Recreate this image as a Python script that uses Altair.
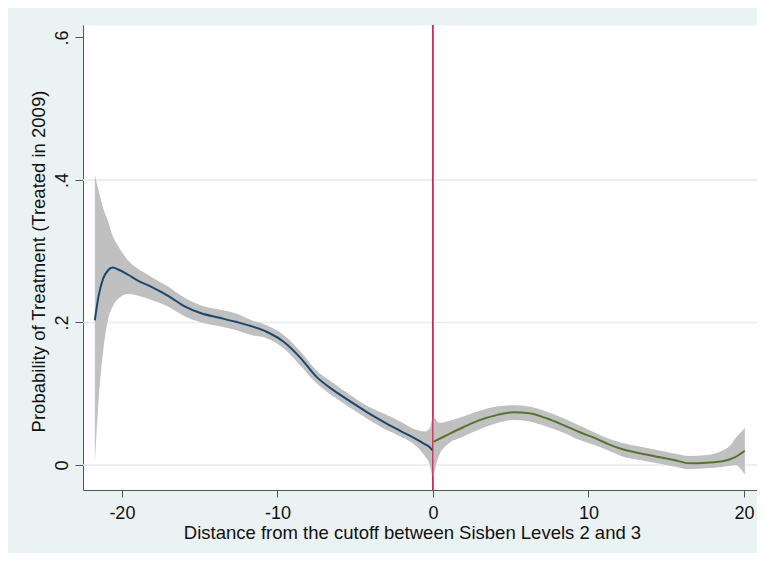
import altair as alt
import pandas as pd

# ---- data ----
LEFT_X = [-21.74, -21.5, -21.2, -20.9, -20.6, -20.2, -19.6, -19.0, -18.1, -17.0, -16.0,
          -14.9, -13.8, -12.7, -11.7, -10.7, -9.6, -8.5, -7.5, -6.4, -5.3, -4.3, -3.2,
          -2.1, -1.05, -0.5, -0.2, -0.05]
LEFT_MID = [0.203, 0.237, 0.262, 0.273, 0.277, 0.274, 0.267, 0.259, 0.250, 0.237, 0.223,
            0.213, 0.207, 0.201, 0.195, 0.187, 0.173, 0.150, 0.124, 0.105, 0.089, 0.075,
            0.061, 0.048, 0.036, 0.029, 0.025, 0.021]
LEFT_HI = [0.407, 0.385, 0.360, 0.343, 0.322, 0.306, 0.287, 0.276, 0.264, 0.250, 0.235,
           0.224, 0.2185, 0.213, 0.2035, 0.196, 0.1825, 0.159, 0.133, 0.115, 0.098, 0.084,
           0.0725, 0.061, 0.049, 0.047, 0.052, 0.066]
LEFT_LO = [0.003, 0.090, 0.160, 0.203, 0.222, 0.234, 0.240, 0.238, 0.2316, 0.222, 0.209,
           0.200, 0.195, 0.1895, 0.1825, 0.178, 0.164, 0.139, 0.115, 0.096, 0.080, 0.066,
           0.0515, 0.040, 0.026, 0.012, 0.000, -0.016]

RIGHT_X = [0.05, 0.25, 0.45, 0.9, 1.95, 3.0, 4.1, 5.2, 6.2, 7.3, 8.4, 9.45, 10.5, 11.2,
           12.2, 13.3, 14.4, 15.5, 16.5, 17.6, 18.7, 19.1, 19.5, 19.8, 20.06]
RIGHT_MID = [0.0327, 0.035, 0.037, 0.042, 0.053, 0.063, 0.070, 0.074, 0.0725, 0.0655, 0.056,
             0.046, 0.037, 0.030, 0.022, 0.0164, 0.0117, 0.007, 0.0024, 0.0033, 0.0056,
             0.008, 0.0117, 0.016, 0.020]
RIGHT_HI = [0.068, 0.062, 0.059, 0.061, 0.068, 0.076, 0.082, 0.084, 0.082, 0.075, 0.0655,
            0.055, 0.0445, 0.038, 0.031, 0.026, 0.021, 0.016, 0.0126, 0.014, 0.021, 0.027,
            0.039, 0.046, 0.052]
RIGHT_LO = [-0.016, 0.004, 0.016, 0.028, 0.040, 0.050, 0.0585, 0.063, 0.061, 0.054, 0.0454,
            0.035, 0.027, 0.021, 0.012, 0.007, 0.0024, -0.002, -0.006, -0.0047, -0.0024,
            -0.001, 0.000, -0.006, -0.013]

X_TICKS = [-20, -10, 0, 10, 20]
Y_TICKS = [0, 0.2, 0.4, 0.6]
GRID_Y = [0, 0.2, 0.4]
CUTOFF = [0]

X_TITLE = "Distance from the cutoff between Sisben Levels 2 and 3"
Y_TITLE = "Probability of Treatment (Treated in 2009)"

FONT = "Liberation Sans"
BLUE = "#1A476F"
GREEN = "#55752F"
BAND = "#C0C0C0"
RED = "#C8143C"
BG = "#EAF2F3"
AXIS_COLOR = "#555555"

left = pd.DataFrame({"x": LEFT_X, "mid": LEFT_MID, "lo": LEFT_LO, "hi": LEFT_HI})
left["side"] = "left"
right = pd.DataFrame({"x": RIGHT_X, "mid": RIGHT_MID, "lo": RIGHT_LO, "hi": RIGHT_HI})
right["side"] = "right"
df = pd.concat([left, right], ignore_index=True)

x_scale = alt.Scale(domain=[-22.5, 20.84], nice=False, zero=False)
y_scale = alt.Scale(domain=[-0.0351, 0.6175], nice=False, zero=False)

x_axis = alt.Axis(
    values=X_TICKS, title=X_TITLE, grid=False, tickSize=7, labelPadding=7,
    labelExpr="toString(datum.value)",
    labelFontSize=18, titleFontSize=18.5, labelFont=FONT, titleFont=FONT,
    labelColor="#111111", titleColor="#111111", titleFontWeight="normal",
    domainColor=AXIS_COLOR, tickColor=AXIS_COLOR, labelFlush=False,
    titleX=329, titleY=48.5, titleAlign="center", titleBaseline="alphabetic",
)
y_axis = alt.Axis(
    values=Y_TICKS, title=Y_TITLE, grid=False, tickSize=8, labelPadding=4,
    labelExpr="datum.value == 0 ? '0' : replace(format(datum.value, '.1f'), '0.', '.')",
    labelAngle=270, labelAlign="center", labelBaseline="bottom",
    labelFontSize=18, titleFontSize=18.5, labelFont=FONT, titleFont=FONT,
    labelColor="#111111", titleColor="#111111", titleFontWeight="normal",
    domainColor=AXIS_COLOR, tickColor=AXIS_COLOR, labelFlush=False,
    titleAngle=270, titleX=-39, titleY=236, titleAlign="center", titleBaseline="alphabetic",
)

grid = alt.Chart(pd.DataFrame({"g": GRID_Y})).mark_rule(color="#E2EBEE", strokeWidth=1.5).encode(
    y=alt.Y("g:Q", scale=y_scale, axis=y_axis)
)
cut = alt.Chart(pd.DataFrame({"c": CUTOFF})).mark_rule(color=RED, strokeWidth=1.6).encode(
    x=alt.X("c:Q", scale=x_scale, axis=x_axis)
)
band = alt.Chart(df).mark_area(color=BAND, opacity=1, interpolate="monotone").encode(
    x=alt.X("x:Q", scale=x_scale, axis=x_axis),
    y=alt.Y("lo:Q", scale=y_scale, axis=y_axis),
    y2="hi:Q",
    detail="side:N",
)
line = alt.Chart(df).mark_line(strokeWidth=2, interpolate="monotone").encode(
    x=alt.X("x:Q", scale=x_scale, axis=x_axis),
    y=alt.Y("mid:Q", scale=y_scale, axis=y_axis),
    color=alt.Color("side:N", scale=alt.Scale(domain=["left", "right"], range=[BLUE, GREEN]), legend=None),
)

chart = alt.layer(grid, cut, band, line).properties(
    width=674, height=465,
    padding={"left": 75, "top": 17, "right": 0, "bottom": 63},
    autosize=alt.AutoSizeParams(type="none"),
).configure(background=BG).configure_view(fill="white", stroke="transparent")

chart.save("out.html", embed_options={"renderer": "svg", "actions": False})
